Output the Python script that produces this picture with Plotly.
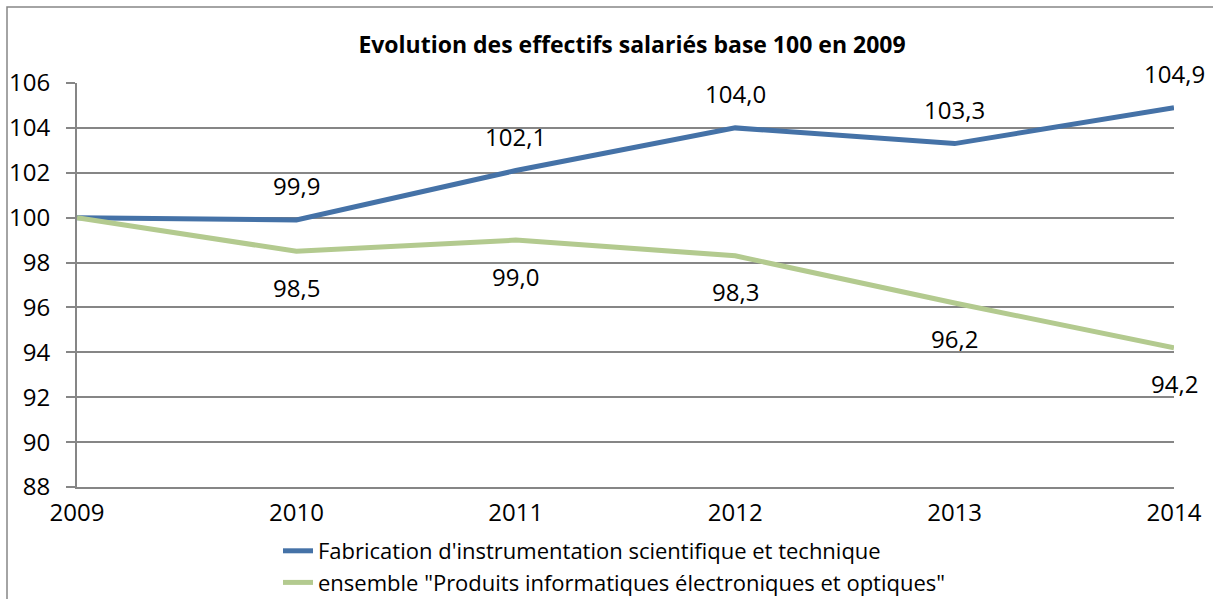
import plotly.graph_objects as go

years = [2009, 2010, 2011, 2012, 2013, 2014]
fabrication = [100.0, 99.9, 102.1, 104.0, 103.3, 104.9]
ensemble = [100.0, 98.5, 99.0, 98.3, 96.2, 94.2]
fab_labels = ["", "99,9", "102,1", "104,0", "103,3", "104,9"]
ens_labels = ["", "98,5", "99,0", "98,3", "96,2", "94,2"]
series_names = [
    "Fabrication d'instrumentation scientifique et technique",
    "ensemble \"Produits informatiques électroniques et optiques\"",
]
title_text = "Evolution des effectifs salariés base 100 en 2009"
y_ticks = [88, 90, 92, 94, 96, 98, 100, 102, 104, 106]

FONT = "Open Sans"
W, H = 1213, 599
ML, MR, MT, MB = 77, 39, 83, 112
PW = W - ML - MR
PH = H - MT - MB

fig = go.Figure()
fig.add_trace(go.Scatter(x=years, y=fabrication, mode="lines", name=series_names[0],
                         line=dict(color="#4572A7", width=5), cliponaxis=False))
fig.add_trace(go.Scatter(x=years, y=ensemble, mode="lines", name=series_names[1],
                         line=dict(color="#B3CA8F", width=5), cliponaxis=False))

annotations = []
for x, y, t in zip(years, fabrication, fab_labels):
    if t:
        annotations.append(dict(x=x, y=y, text=t, showarrow=False, yshift=34,
                                font=dict(family=FONT, size=24, color="#000")))
for x, y, t in zip(years, ensemble, ens_labels):
    if t:
        annotations.append(dict(x=x, y=y, text=t, showarrow=False, yshift=-36,
                                font=dict(family=FONT, size=24, color="#000")))

# outer chart frame (top and left visible)
fig.add_shape(type="rect", xref="paper", yref="paper",
              x0=(7 - ML) / PW, x1=(W + 20 - ML) / PW,
              y0=-(H + 20 - MT - PH) / PH, y1=(H - 7 - MB) / PH,
              line=dict(color="#868686", width=1.5), fillcolor="rgba(0,0,0,0)",
              layer="below")

fig.update_layout(
    width=W, height=H,
    margin=dict(l=ML, r=MR, t=MT, b=MB, autoexpand=False),
    paper_bgcolor="white", plot_bgcolor="white",
    title=dict(text="<b>" + title_text + "</b>", x=632 / W, xanchor="center",
               y=1 - 45 / H, yanchor="middle",
               font=dict(family=FONT, size=23, color="#000")),
    font=dict(family=FONT, size=24, color="#000"),
    showlegend=True,
    legend=dict(orientation="v", x=(278 - ML) / PW, xanchor="left",
                y=-(530 - MT - PH) / PH, yanchor="top",
                font=dict(family=FONT, size=22, color="#000"),
                bgcolor="rgba(0,0,0,0)", tracegroupgap=0, itemwidth=30),
    annotations=annotations,
)
fig.update_xaxes(range=[2009, 2014], tickvals=years, ticktext=[str(y) for y in years],
                 showgrid=False, showline=True, linecolor="#868686", linewidth=2,
                 ticks="", zeroline=False, fixedrange=True, ticklabelstandoff=3,
                 tickfont=dict(family=FONT, size=24, color="#000"))
fig.update_yaxes(range=[88, 106], tickvals=y_ticks, showgrid=True, gridcolor="#868686",
                 gridwidth=1.5, showline=True, linecolor="#868686", linewidth=2,
                 ticks="outside", ticklen=9, tickcolor="#868686", tickwidth=1.5,
                 ticklabelstandoff=11, zeroline=False, fixedrange=True,
                 tickfont=dict(family=FONT, size=24, color="#000"))

fig.write_html("out.html", config={"displayModeBar": False},
               post_script="document.body.style.margin='0';")
